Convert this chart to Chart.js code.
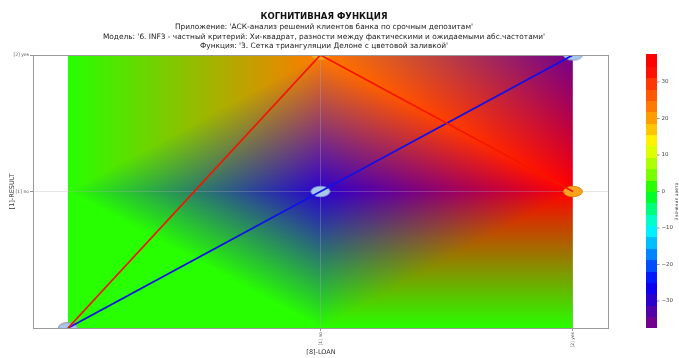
<!DOCTYPE html>
<html>
<head>
<meta charset="utf-8">
<script src="https://cdn.jsdelivr.net/npm/chart.js@4.4.1/dist/chart.umd.min.js"></script>
<style>
  html, body { margin: 0; padding: 0; background: #fff; }
  #wrap { width: 679px; height: 358px; }
</style>
</head>
<body>
<div id="wrap"><canvas id="chart" width="679" height="358"></canvas></div>
<script>
// ---- data -------------------------------------------------------------
// category labels for the two descriptors (index 0 is the empty origin)
const xLabels = ['', '[1] no', '[2] yes'];
const yLabels = ['', '[1] no', '[2] yes'];

// grid nodes (x index, y index) and the value of the cognitive function at each
const nodeX = [0, 1, 2, 0, 1, 2, 0, 1, 2];
const nodeY = [0, 0, 0, 1, 1, 1, 2, 2, 2];
const nodeZ = [0, 0, 0, 0, -31, 37.4, 0, 22, -37.4];

// Delaunay triangles as triples of node indices
const triangles = [[6, 3, 7], [8, 7, 5], [2, 5, 1], [0, 1, 3],
                   [4, 3, 7], [4, 7, 5], [4, 5, 1], [4, 1, 3]];

// polylines through the max (red) and min (blue) value of each column
const maxLineX = [0, 1, 2];
const maxLineY = [0, 2, 1];
const minLineX = [0, 1, 2];
const minLineY = [0, 1, 2];

// colour scale
const colorMin = -37.4;
const colorMax = 37.4;
const colorTicks = [30, 20, 10, 0, -10, -20, -30];

// rainbow colour map: value -> rgb
const cmapStops = [
  [-37.4, [128, 0, 128]],
  [-33, [85, 0, 165]],
  [-29, [35, 0, 215]],
  [-25, [0, 0, 255]],
  [-20, [0, 80, 255]],
  [-14, [0, 190, 255]],
  [-10, [0, 255, 255]],
  [-5, [0, 255, 130]],
  [0, [0, 255, 0]],
  [5, [128, 255, 0]],
  [9.5, [200, 255, 0]],
  [13, [255, 255, 0]],
  [19.5, [255, 165, 0]],
  [24, [255, 115, 0]],
  [30, [255, 50, 0]],
  [34, [255, 0, 0]],
  [37.4, [255, 0, 0]]
];
const cmapLevels = 24;

const FONT = 'DejaVu Sans';

function cmap(v) {
  if (v <= cmapStops[0][0]) return cmapStops[0][1].slice();
  for (let i = 1; i < cmapStops.length; i++) {
    const [v1, c1] = cmapStops[i];
    const [v0, c0] = cmapStops[i - 1];
    if (v <= v1) {
      const t = (v - v0) / (v1 - v0);
      return [0, 1, 2].map(k => c0[k] + (c1[k] - c0[k]) * t);
    }
  }
  return cmapStops[cmapStops.length - 1][1].slice();
}
function levelColor(v) {
  const step = (colorMax - colorMin) / cmapLevels;
  let k = Math.floor((v - colorMin) / step);
  k = Math.max(0, Math.min(cmapLevels - 1, k));
  return cmap(colorMin + (k + 0.5) * step);
}
const rgb = c => `rgb(${c.map(Math.round).join(',')})`;

// ---- marker images ------------------------------------------------------
function ellipseMarker(fill, stroke) {
  const c = document.createElement('canvas');
  c.width = 22; c.height = 13;
  const g = c.getContext('2d');
  g.beginPath();
  g.ellipse(11, 6.5, 9.5, 5.2, 0, 0, Math.PI * 2);
  g.fillStyle = fill; g.fill();
  g.lineWidth = 0.9; g.strokeStyle = stroke; g.stroke();
  return c;
}
const blueMarker = ellipseMarker('#a9c6ec', '#7d9bcc');
const orangeMarker = ellipseMarker('#f9a21e', '#d9860f');

// ---- plugins ------------------------------------------------------------
// Gouraud-shaded triangulation painted under the grid
const shading = {
  id: 'shading',
  beforeDraw(chart) {
    const { ctx, chartArea: a, scales: { x, y } } = chart;
    const w = Math.ceil(a.right - a.left), h = Math.ceil(a.bottom - a.top);
    const off = document.createElement('canvas');
    off.width = w; off.height = h;
    const octx = off.getContext('2d');
    const img = octx.createImageData(w, h);
    const d = img.data;
    const px = nodeX.map(v => x.getPixelForValue(v) - a.left);
    const py = nodeY.map(v => y.getPixelForValue(v) - a.top);
    const cols = nodeZ.map(levelColor);
    for (const [i, j, k] of triangles) {
      const x0 = px[i], y0 = py[i], x1 = px[j], y1 = py[j], x2 = px[k], y2 = py[k];
      const det = (y1 - y2) * (x0 - x2) + (x2 - x1) * (y0 - y2);
      const xa = Math.max(0, Math.floor(Math.min(x0, x1, x2)));
      const xb = Math.min(w - 1, Math.ceil(Math.max(x0, x1, x2)));
      const ya = Math.max(0, Math.floor(Math.min(y0, y1, y2)));
      const yb = Math.min(h - 1, Math.ceil(Math.max(y0, y1, y2)));
      for (let r = ya; r <= yb; r++) {
        const Y = r + 0.5;
        for (let c = xa; c <= xb; c++) {
          const X = c + 0.5;
          const l0 = ((y1 - y2) * (X - x2) + (x2 - x1) * (Y - y2)) / det;
          const l1 = ((y2 - y0) * (X - x2) + (x0 - x2) * (Y - y2)) / det;
          const l2 = 1 - l0 - l1;
          if (l0 < -1e-6 || l1 < -1e-6 || l2 < -1e-6) continue;
          const o = (r * w + c) * 4;
          for (let q = 0; q < 3; q++) {
            d[o + q] = cols[i][q] * l0 + cols[j][q] * l1 + cols[k][q] * l2;
          }
          d[o + 3] = 255;
        }
      }
    }
    octx.putImageData(img, 0, 0);
    ctx.save();
    ctx.drawImage(off, a.left, a.top);
    ctx.restore();
  }
};

// frame, titles and colour bar
const decorations = {
  id: 'decorations',
  afterDraw(chart) {
    const { ctx, chartArea: a } = chart;
    ctx.save();
    // frame round the plot
    ctx.strokeStyle = '#9a9a9a';
    ctx.lineWidth = 1;
    ctx.strokeRect(Math.round(a.left) + 0.5, Math.round(a.top) + 0.5,
                   Math.round(a.right - a.left) - 1, Math.round(a.bottom - a.top));

    // titles
    ctx.fillStyle = '#111';
    ctx.textAlign = 'center';
    ctx.textBaseline = 'middle';
    const cx = 324;
    ctx.font = `bold 8.5px "${FONT}"`;
    ctx.fillText('КОГНИТИВНАЯ ФУНКЦИЯ', cx, 17);
    ctx.font = `7.4px "${FONT}"`;
    ctx.fillStyle = '#222';
    ctx.fillText("Приложение: 'АСК-анализ решений клиентов банка по срочным депозитам'", cx, 27.5);
    ctx.fillText("Модель: '6. INF3 - частный критерий: Хи-квадрат, разности между фактическими и ожидаемыми абс.частотами'", cx, 37);
    ctx.fillText("Функция: '3. Сетка триангуляции Делоне с цветовой заливкой'", cx, 46);

    // colour bar
    const bx = 646, bw = 11, top = a.top, bottom = a.bottom;
    const vy = v => top + (colorMax - v) / (colorMax - colorMin) * (bottom - top);
    const step = (colorMax - colorMin) / cmapLevels;
    for (let k = 0; k < cmapLevels; k++) {
      const v0 = colorMin + k * step, v1 = v0 + step;
      const ya = vy(v1), yb = vy(v0);
      ctx.fillStyle = rgb(cmap(v0 + step / 2));
      ctx.fillRect(bx, Math.floor(ya), bw, Math.ceil(yb) - Math.floor(ya));
    }
    ctx.font = `5.5px "${FONT}"`;
    ctx.textAlign = 'left';
    ctx.fillStyle = '#444';
    ctx.strokeStyle = '#666';
    ctx.lineWidth = 0.7;
    for (const t of colorTicks) {
      const ty = vy(t);
      ctx.beginPath();
      ctx.moveTo(bx + bw, ty); ctx.lineTo(bx + bw + 2.5, ty); ctx.stroke();
      ctx.fillText(t < 0 ? '\u2212' + Math.abs(t) : String(t), bx + bw + 4.5, ty);
    }
    ctx.translate(677, (top + bottom) / 2 + 10);
    ctx.rotate(-Math.PI / 2);
    ctx.textAlign = 'center';
    ctx.font = `4.5px "${FONT}"`;
    ctx.fillText('Значения цвета', 0, 0);
    ctx.restore();
  }
};

// ---- chart --------------------------------------------------------------
const pts = (xs, ys) => xs.map((v, i) => ({ x: v, y: ys[i] }));

new Chart(document.getElementById('chart'), {
  type: 'scatter',
  data: {
    datasets: [
      {
        label: 'max',
        data: pts(maxLineX, maxLineY),
        showLine: true,
        borderColor: '#f01800',
        borderWidth: 1.8,
        pointRadius: 0,
        order: 0
      },
      {
        label: 'min',
        data: pts(minLineX, minLineY),
        showLine: true,
        borderColor: '#1010e8',
        borderWidth: 1.8,
        pointRadius: 0,
        order: 0
      },
      {
        label: 'min points',
        data: pts(minLineX, minLineY),
        pointStyle: blueMarker,
        pointRadius: 6,
        clip: 0,
        order: 1
      },
      {
        label: 'max points',
        data: pts(maxLineX, maxLineY),
        pointStyle: orangeMarker,
        pointRadius: 6,
        clip: 0,
        order: 2
      }
    ]
  },
  options: {
    responsive: false,
    animation: false,
    devicePixelRatio: 1,
    layout: { padding: { left: 0, right: 70, top: 55, bottom: 0 } },
    plugins: {
      legend: { display: false },
      tooltip: { enabled: false },
      title: { display: false }
    },
    scales: {
      x: {
        type: 'linear',
        min: -0.1386,
        max: 2.1426,
        afterFit: s => { s.height = 30; },
        afterBuildTicks: s => { s.ticks = [{ value: 1 }, { value: 2 }]; },
        border: { display: false },
        grid: {
          color: 'rgba(175,175,175,0.4)',
          lineWidth: 0.8,
          drawTicks: true,
          tickLength: 3,
          tickColor: '#777',
          tickWidth: 0.8
        },
        ticks: {
          minRotation: 90,
          maxRotation: 90,
          autoSkip: false,
          padding: 1,
          color: '#555',
          font: { family: FONT, size: 4.5 },
          callback: v => xLabels[v] ?? ''
        },
        title: {
          display: true,
          text: '[8]-LOAN',
          color: '#333',
          font: { family: FONT, size: 6.5 },
          padding: { top: 0, bottom: 2 }
        }
      },
      y: {
        type: 'linear',
        min: 0,
        max: 2,
        afterFit: s => { s.width = 33; },
        afterBuildTicks: s => { s.ticks = [{ value: 1 }, { value: 2 }]; },
        border: { display: false },
        grid: {
          color: 'rgba(175,175,175,0.4)',
          lineWidth: 0.8,
          drawTicks: true,
          tickLength: 3,
          tickColor: '#777',
          tickWidth: 0.8
        },
        ticks: {
          autoSkip: false,
          padding: 1,
          color: '#555',
          font: { family: FONT, size: 4.5 },
          callback: v => yLabels[v] ?? ''
        },
        title: {
          display: true,
          text: '[1]-RESULT',
          color: '#333',
          font: { family: FONT, size: 6.5 },
          padding: { top: 8, bottom: 0 }
        }
      }
    }
  },
  plugins: [shading, decorations]
});
</script>
</body>
</html>
